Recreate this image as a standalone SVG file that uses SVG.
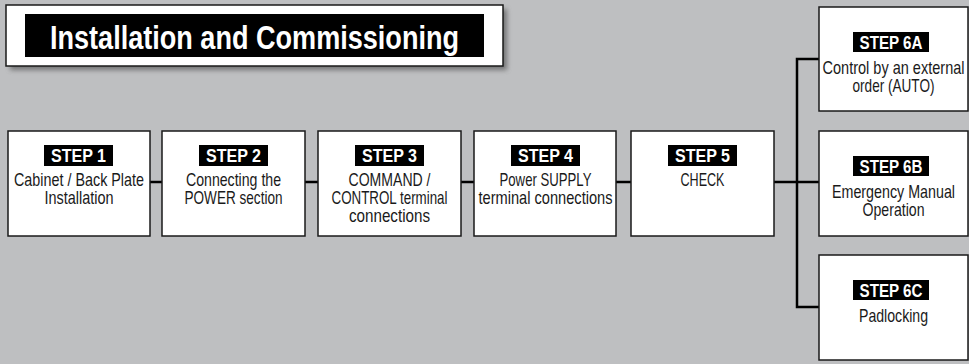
<svg xmlns="http://www.w3.org/2000/svg" width="969" height="364" viewBox="0 0 969 364">
<style>
.box{fill:#fff;stroke:#1a1a1a;stroke-width:1.5}
.lab{fill:#000}
.lt{font-family:"Liberation Sans",Arial,sans-serif;font-weight:bold;font-size:19px;fill:#fff;text-anchor:middle}
.bt{font-family:"Liberation Sans",Arial,sans-serif;font-size:18px;fill:#1a1a1a;text-anchor:middle}
.con{stroke:#000;stroke-width:2.5;fill:none}
</style>
<defs>
<filter id="sh" x="-10%" y="-30%" width="120%" height="170%">
<feGaussianBlur stdDeviation="2.5"/>
</filter>
</defs>
<rect x="0" y="0" width="969" height="364" fill="#bebfc1"/>
<g id="title">
<rect x="10" y="9" width="497" height="61" fill="#555" opacity="0.7" filter="url(#sh)"/>
<rect x="6" y="5" width="497" height="61" class="box"/>
<rect x="25" y="14" width="459" height="43" fill="#000"/>
<text x="254.5" y="48.5" font-family="'Liberation Sans',Arial,sans-serif" font-weight="bold" font-size="34" fill="#fff" text-anchor="middle" textLength="409" lengthAdjust="spacingAndGlyphs">Installation and Commissioning</text>
</g>
<g id="connectors">
<line class="con" x1="150" y1="182" x2="162" y2="182"/>
<line class="con" x1="305" y1="182" x2="318" y2="182"/>
<line class="con" x1="461" y1="182" x2="474" y2="182"/>
<line class="con" x1="616" y1="182" x2="631" y2="182"/>
<line class="con" x1="774" y1="182" x2="819" y2="182"/>
<polyline class="con" points="819,59 797,59 797,307 819,307"/>
</g>
<g id="step1">
<rect x="8" y="131" width="142" height="105" class="box"/>
<rect x="44" y="145" width="69" height="21" class="lab"/>
<g transform="translate(78.5,0) scale(0.8,1)">
<text x="0" y="162.5" class="lt" textLength="68.75" lengthAdjust="spacingAndGlyphs">STEP 1</text>
</g>
<g transform="translate(79,0) scale(0.8,1)">
<text x="0" y="186.5" class="bt" textLength="162.5" lengthAdjust="spacingAndGlyphs">Cabinet / Back Plate</text>
<text x="0" y="204.5" class="bt" textLength="86.3" lengthAdjust="spacingAndGlyphs">Installation</text>
</g>
</g>
<g id="step2">
<rect x="162" y="131" width="143" height="105" class="box"/>
<rect x="199" y="145" width="69" height="21" class="lab"/>
<g transform="translate(233.5,0) scale(0.8,1)">
<text x="0" y="162.5" class="lt" textLength="68.75" lengthAdjust="spacingAndGlyphs">STEP 2</text>
<text x="0" y="186.5" class="bt" textLength="118.8" lengthAdjust="spacingAndGlyphs">Connecting the</text>
<text x="0" y="204.5" class="bt" textLength="122.5" lengthAdjust="spacingAndGlyphs">POWER section</text>
</g>
</g>
<g id="step3">
<rect x="318" y="131" width="143" height="105" class="box"/>
<rect x="355" y="145" width="69" height="21" class="lab"/>
<g transform="translate(389.5,0) scale(0.8,1)">
<text x="0" y="162.5" class="lt" textLength="68.75" lengthAdjust="spacingAndGlyphs">STEP 3</text>
<text x="0" y="186.5" class="bt" textLength="102.5" lengthAdjust="spacingAndGlyphs">COMMAND /</text>
<text x="0" y="204.5" class="bt" textLength="145" lengthAdjust="spacingAndGlyphs">CONTROL terminal</text>
<text x="0" y="222.5" class="bt" textLength="101.3" lengthAdjust="spacingAndGlyphs">connections</text>
</g>
</g>
<g id="step4">
<rect x="474" y="131" width="142" height="105" class="box"/>
<rect x="511" y="145" width="69" height="21" class="lab"/>
<g transform="translate(545.5,0) scale(0.8,1)">
<text x="0" y="162.5" class="lt" textLength="68.75" lengthAdjust="spacingAndGlyphs">STEP 4</text>
<text x="0" y="186.5" class="bt" textLength="115" lengthAdjust="spacingAndGlyphs">Power SUPPLY</text>
<text x="0" y="204.5" class="bt" textLength="167.5" lengthAdjust="spacingAndGlyphs">terminal connections</text>
</g>
</g>
<g id="step5">
<rect x="631" y="131" width="143" height="105" class="box"/>
<rect x="668" y="145" width="69" height="21" class="lab"/>
<g transform="translate(702.5,0) scale(0.8,1)">
<text x="0" y="162.5" class="lt" textLength="68.75" lengthAdjust="spacingAndGlyphs">STEP 5</text>
<text x="0" y="186.5" class="bt" textLength="55" lengthAdjust="spacingAndGlyphs">CHECK</text>
</g>
</g>
<g id="step6a">
<rect x="819" y="7" width="149" height="104" class="box"/>
<rect x="853" y="32" width="76" height="20" class="lab"/>
<g transform="translate(891,0) scale(0.8,1)">
<text x="0" y="49" class="lt" textLength="78.75" lengthAdjust="spacingAndGlyphs">STEP 6A</text>
</g>
<g transform="translate(893.5,0) scale(0.8,1)">
<text x="0" y="74.5" class="bt" textLength="177.5" lengthAdjust="spacingAndGlyphs">Control by an external</text>
<text x="0" y="92.5" class="bt" textLength="102.5" lengthAdjust="spacingAndGlyphs">order (AUTO)</text>
</g>
</g>
<g id="step6b">
<rect x="819" y="131" width="149" height="105" class="box"/>
<rect x="853" y="156" width="76" height="20" class="lab"/>
<g transform="translate(891,0) scale(0.8,1)">
<text x="0" y="173" class="lt" textLength="78.75" lengthAdjust="spacingAndGlyphs">STEP 6B</text>
</g>
<g transform="translate(893.5,0) scale(0.8,1)">
<text x="0" y="198.5" class="bt" textLength="153.8" lengthAdjust="spacingAndGlyphs">Emergency Manual</text>
<text x="0" y="216.5" class="bt" textLength="77.5" lengthAdjust="spacingAndGlyphs">Operation</text>
</g>
</g>
<g id="step6c">
<rect x="819" y="255" width="149" height="105" class="box"/>
<rect x="853" y="280" width="76" height="20" class="lab"/>
<g transform="translate(891,0) scale(0.8,1)">
<text x="0" y="297" class="lt" textLength="78.75" lengthAdjust="spacingAndGlyphs">STEP 6C</text>
</g>
<g transform="translate(893.5,0) scale(0.8,1)">
<text x="0" y="322" class="bt" textLength="86.3" lengthAdjust="spacingAndGlyphs">Padlocking</text>
</g>
</g>
</svg>
